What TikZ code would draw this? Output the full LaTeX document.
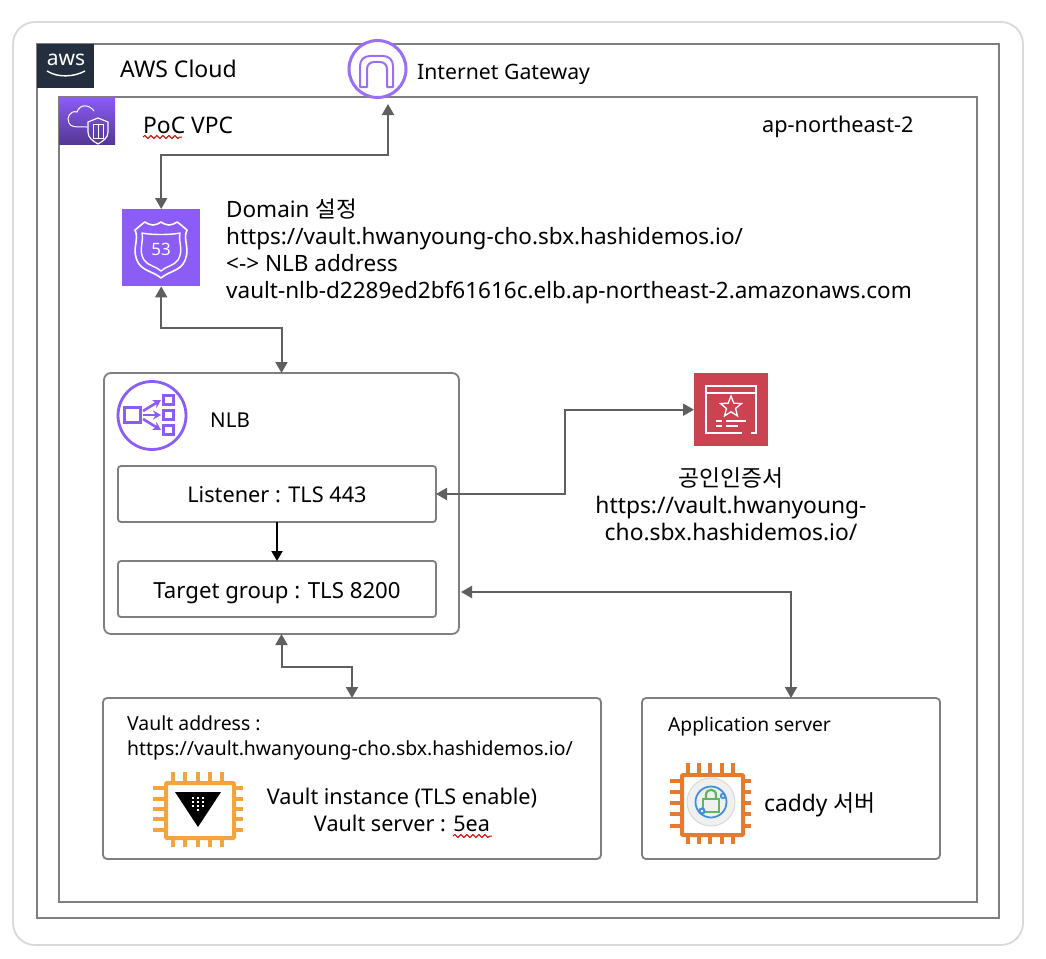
\documentclass[tikz,border=0pt]{standalone}
\usepackage{fontspec}
\setmainfont{Noto Sans}
\newfontfamily\cjk{Noto Sans CJK KR}
\usetikzlibrary{arrows.meta,shapes.geometric,shapes.misc,decorations.pathmorphing,positioning,calc}
\definecolor{frame}{HTML}{7F7F7F}
\definecolor{conn}{HTML}{5F5F5F}
\definecolor{purp}{HTML}{8C5CF6}
\definecolor{igwp}{HTML}{9A6EF7}
\definecolor{awsdark}{HTML}{232F3E}
\definecolor{certred}{HTML}{CB4250}
\definecolor{vaultor}{HTML}{F5A33C}
\definecolor{caddyor}{HTML}{E57B2E}
\definecolor{lockgr}{HTML}{5DB85C}
\definecolor{ringbl}{HTML}{3F8FDC}
\tikzset{
  txt/.style={inner sep=0pt,text=black},
  fs/.style={font=\fontsize{#1}{27}\selectfont},
  sqbox/.style={draw=frame,line width=1.8pt,fill=white,inner sep=0pt,outer sep=0pt,anchor=north west},
  rbox/.style={sqbox,rounded corners=7pt},
  icon/.style={inner sep=0pt,anchor=north west},
  dbl/.style={draw=conn,line width=2pt,{Triangle[length=11pt,width=12pt]}-{Triangle[length=11pt,width=12pt]}},
  single/.style={draw=black,line width=2pt,-{Triangle[length=10pt,width=11pt]}},
  squig/.style={draw=red!85!black,line width=1pt,decorate,decoration={snake,segment length=6pt,amplitude=1.5pt}},
}
\newcommand{\rectnode}[6]{\node[#1,minimum width=#5pt-#3pt,minimum height=#6pt-#4pt] (#2) at (#3,#4) {};}
\begin{document}
\begin{tikzpicture}[x=1pt,y=-1pt]
\useasboundingbox (0,0) rectangle (1046,958);
\fill[white] (0,0) rectangle (1046,958);
% frames
\rectnode{sqbox,draw=black!15,rounded corners=22pt}{page}{13}{22}{1023}{945}
\rectnode{sqbox}{cloud}{37}{44}{999}{918}
\rectnode{sqbox}{vpc}{59}{97}{977}{902}
% aws logo
\rectnode{icon,fill=awsdark}{awslogo}{37}{44}{94}{88}
\node[inner sep=0pt,text=white,font=\fontsize{21}{21}\selectfont] (awstext) at (66,60) {aws};
\draw[white,line width=1.4pt] (47,71) .. controls (58,78) and (74,77) .. (85,71);
% vpc icon
\node[icon,minimum width=56pt,minimum height=47pt,bottom color=purp!60!black,top color=purp] (vpcicon) at (59,97) {};
\draw[white,line width=1pt,line cap=round] (94,111) .. controls (90,105) and (80,103) .. (77,112) .. controls (70,110) and (66,118) .. (69,123) .. controls (71,127) and (74,127) .. (87,127);
\draw[white,line width=1.2pt] (98,118) -- (108,122) -- (108,132) .. controls (108,138) and (103,141) .. (98,144) .. controls (93,141) and (88,138) .. (88,132) -- (88,122) -- cycle;
\draw[white,line width=1pt] (93,124) rectangle (103,138);
\draw[white,line width=1pt] (98,124) -- (98,138);
% labels
\node[txt,fs=23,anchor=west] (lblcloud) at (120,69) {AWS Cloud};
\node[txt,fs=22.8,anchor=west] (lblvpc) at (143,125) {PoC VPC};
\draw[squig] (143,137) -- (182,137);
\node[txt,fs=21.7,anchor=west] (lblregion) at (762,127) {ap-northeast-2};
% internet gateway
\node[circle,draw=igwp,fill=white,line width=3pt,minimum size=57pt,inner sep=0pt] (igw) at (377.5,69) {};
\draw[igwp,line width=2pt,line join=round] (360,87) -- (360,66) .. controls (360,60) and (364,56) .. (370,56) -- (383,56) .. controls (389,56) and (393,60) .. (393,66) -- (393,87) -- (387,87) -- (387,69) .. controls (387,65) and (384,62) .. (380,62) -- (374,62) .. controls (370,62) and (367,65) .. (367,69) -- (367,87) -- cycle;
\node[txt,fs=21.2,anchor=west] (lbligw) at (417,74) {Internet Gateway};
% route53
\rectnode{icon,fill=purp}{r53}{122}{209}{200}{286}
\draw[white,line width=1.6pt,line join=round] (135,230) .. controls (140,226) and (143,223) .. (145,222) .. controls (151,226) and (155,226) .. (161,222) .. controls (167,226) and (171,226) .. (177,222) .. controls (179,223) and (182,226) .. (187,230) .. controls (182,240) and (192,250) .. (183,264) .. controls (178,271) and (168,272) .. (161,278) .. controls (154,272) and (144,271) .. (139,264) .. controls (130,250) and (140,240) .. (135,230) -- cycle;
\draw[white,line width=1.4pt,line join=round] (142,233) .. controls (150,235) and (172,235) .. (180,233) .. controls (178,242) and (184,250) .. (178,260) .. controls (174,266) and (166,266) .. (161,271) .. controls (156,266) and (148,266) .. (144,260) .. controls (138,250) and (144,242) .. (142,233) -- cycle;
\node[inner sep=0pt,text=white,font=\fontsize{17}{17}\selectfont] (r53text) at (161,249) {53};
\node[txt,fs=22.5,anchor=north west,align=left] (lbldomain) at (226,198.5) {Domain {\cjk 설정}\\https://vault.hwanyoung-cho.sbx.hashidemos.io/\\<-> NLB address\\vault-nlb-d2289ed2bf61616c.elb.ap-northeast-2.amazonaws.com};
% NLB
\rectnode{rbox}{nlb}{104}{373}{459}{634}
\node[circle,draw=purp,line width=2.8pt,minimum size=68pt,inner sep=0pt] (nlbicon) at (152,415.5) {};
\draw[purp,line width=3pt] (124,407) rectangle (140,422);
\draw[purp,line width=3pt] (163,395) rectangle (173,404);
\draw[purp,line width=3pt] (163,410) rectangle (173,419);
\draw[purp,line width=3pt] (163,425) rectangle (173,434);
\draw[purp,line width=2.6pt,-{Stealth[length=8pt,width=9pt]}] (143,411) -- (161,400);
\draw[purp,line width=2.6pt,-{Stealth[length=8pt,width=9pt]}] (143,415) -- (161,415);
\draw[purp,line width=2.6pt,-{Stealth[length=8pt,width=9pt]}] (143,419) -- (161,430);
\node[txt,fs=20.5,anchor=west] (lblnlb) at (210,420) {NLB};
\rectnode{rbox,rounded corners=3pt}{lis}{118}{466}{436}{522}
\node[txt,fs=21.7] (listext) at ([yshift=-1pt]lis.center) {Listener : TLS 443};
\rectnode{rbox,rounded corners=3pt}{tg}{118}{561}{436}{617}
\node[txt,fs=22.2] (tgtext) at ([yshift=-4.5pt]tg.center) {Target group : TLS 8200};
% certificate
\rectnode{icon,fill=certred}{cert}{694}{373}{768}{446}
\draw[white,line width=1.3pt] (742,433) -- (706,433) -- (706,386) -- (756,386) -- (756,433) -- (751,433);
\draw[white,line width=1.3pt] (706,393) -- (756,393);
\node[star,star points=5,star point ratio=2.3,draw=white,line width=1.3pt,minimum size=22pt,inner sep=0pt] (certstar) at (731,407) {};
\draw[white,line width=1.3pt] (716,421) -- (722,421) (726,421) -- (746,421) (716,426) -- (722,426) (726,426) -- (738,426);
\node[txt,fs=22.8,anchor=north,align=center] (lblcert) at (731,467) {{\cjk 공인인증서}\\https://vault.hwanyoung-\\cho.sbx.hashidemos.io/};
% vault box
\rectnode{rbox,rounded corners=4pt}{vault}{103}{698}{601}{859}
\node[txt,anchor=north west,align=left,font=\fontsize{19.4}{25}\selectfont] (lblvault) at (127,715.5) {Vault address :\\https://vault.hwanyoung-cho.sbx.hashidemos.io/};
\foreach \px in {173,185,198,210,222} \draw[vaultor,line width=4.4pt] (\px,772) -- (\px,847);
\foreach \py in {788,799,809,819,830} \draw[vaultor,line width=4.4pt] (153,\py) -- (243,\py);
\node[icon,draw=vaultor,fill=white,line width=4pt,rounded corners=1pt,minimum width=68pt,minimum height=55pt] (vchip) at (164,781) {};
\fill[black] (175,792) -- (221,792) -- (198,827) -- cycle;
\foreach \px/\py in {193/798,198/798,203/798,193/802,198/802,203/802,193/806,198/806,203/806,198/810} \fill[white] (\px-1.1,\py-1.1) rectangle (\px+1.1,\py+1.1);
\node[txt,fs=21.6,anchor=north,align=center] (lblvi) at (402,788) {Vault instance (TLS enable)\\Vault server : 5ea};
\draw[squig] (453,836) -- (492,836);
% app box
\rectnode{rbox,rounded corners=4pt}{app}{642}{698}{940}{859}
\node[txt,fs=19.2,anchor=west] (lblapp) at (668,726) {Application server};
\foreach \px in {688,699,710,722,733} \draw[caddyor,line width=3.8pt] (\px,763) -- (\px,844);
\foreach \py in {781,792,803,814,826} \draw[caddyor,line width=3.8pt] (670,\py) -- (751,\py);
\node[icon,draw=caddyor,fill=white,line width=4pt,rounded corners=1pt,minimum width=61pt,minimum height=60pt] (cchip) at (680,773) {};
\node[circle,draw=black!15,fill=black!6,line width=1pt,minimum size=48pt,inner sep=0pt] (ccircle) at (711,802) {};
\draw[ringbl,line width=1.8pt] (711,802) circle (15.5);
\draw[lockgr,line width=2.2pt] (703,799) rectangle (719,812);
\draw[lockgr,line width=2.2pt] (706,799) -- (706,795) .. controls (706,788) and (716,788) .. (716,795) -- (716,799);
\fill[ringbl] (702,811) circle (3.6);
\fill[white] (702,811) circle (1.3);
\fill[ringbl] (723,796) circle (3.2);
\fill[white] (723,796) circle (1.1);
\node[txt,fs=22.8,anchor=west] (lblcaddy) at (764,805) {caddy {\cjk 서버}};
% connectors
\draw[dbl] (r53.north) -- ++(0,-54) -| ([xshift=10.5pt,yshift=-5pt]igw.south);
\draw[dbl] (r53.south) -- ++(0,42) -| (nlb.north);
\draw[dbl] (lis.east) -- ++(129,0) |- (cert.west);
\draw[dbl] ([yshift=-88.5pt,xshift=2pt]nlb.east) -| (app.north);
\draw[dbl] (nlb.south) -- ++(0,33) -| (vault.north);
\draw[single] (lis.south) -- (tg.north);
\end{tikzpicture}
\end{document}
